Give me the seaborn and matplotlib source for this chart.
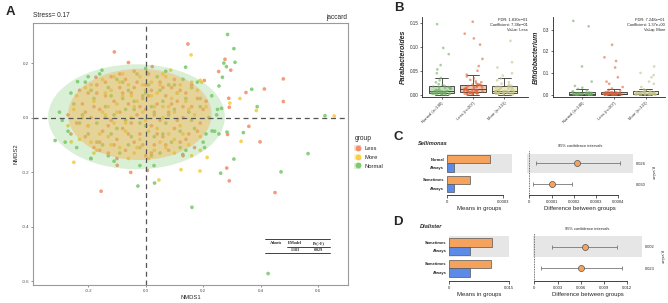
import numpy as np
import pandas as pd
import matplotlib
matplotlib.use("Agg")
import matplotlib.pyplot as plt
import seaborn as sns
from matplotlib.patches import Ellipse, Patch
from matplotlib.lines import Line2D

sns.set_theme(style="white")
plt.rcParams['font.family'] = ['Liberation Sans', 'DejaVu Sans']

# ---------------- data: panel A (NMDS) ----------------
less_pts = [(-0.24,-0.02),(-0.22,0.05),(-0.21,-0.07),(-0.20,0.09),(-0.19,0.00),(-0.18,-0.11),(-0.17,0.12),(-0.16,0.03),
            (-0.15,-0.05),(-0.14,0.08),(-0.13,-0.13),(-0.12,0.15),(-0.12,-0.01),(-0.11,0.06),(-0.10,-0.08),(-0.09,0.11),
            (-0.09,0.02),(-0.08,-0.04),(-0.07,0.14),(-0.07,-0.12),(-0.06,0.05),(-0.05,-0.02),(-0.05,0.09),(-0.04,-0.09),
            (-0.03,0.13),(-0.03,0.01),(-0.02,-0.06),(-0.01,0.07),(0.00,-0.14),(0.00,0.03),(0.01,0.16),(0.02,-0.03),
            (0.02,0.10),(0.03,-0.10),(0.04,0.05),(0.05,-0.01),(0.05,0.13),(0.06,-0.07),(0.07,0.08),(0.08,-0.12),
            (0.08,0.02),(0.09,0.11),(0.10,-0.04),(0.11,0.06),(0.12,-0.09),(0.13,0.00),(0.14,0.09),(0.15,-0.06),
            (0.16,0.04),(0.17,-0.11),(0.18,0.07),(0.19,-0.02),(0.20,0.03),(-0.23,0.10),(-0.26,-0.06),(-0.16,-0.09),
            (0.10,0.14),(-0.04,0.17),(0.13,-0.14),(-0.10,-0.15),
            (-0.20,-0.03),(-0.18,0.04),(-0.14,0.13),(-0.13,-0.03),(-0.11,-0.10),(-0.08,0.09),(-0.06,-0.06),(-0.04,0.11),
            (-0.02,0.04),(-0.01,-0.10),(0.01,0.08),(0.03,0.01),(0.04,-0.06),(0.06,0.11),(0.07,-0.10),(0.09,0.05),
            (0.11,-0.01),(0.12,0.10),(0.14,-0.08),(0.16,0.12),(-0.21,0.02),(-0.16,-0.12),(-0.09,0.16),(0.00,0.12),
            (0.02,-0.13),(0.13,0.04),(-0.27,0.01),(-0.17,0.09),(0.18,-0.05),(0.21,0.06),
            (0.147,0.270),(-0.109,0.241),(-0.060,0.202),(0.023,0.187),(0.276,0.214),(0.296,0.174),(0.254,0.169),
            (0.204,0.136),(0.479,0.142),(0.413,0.105),(0.349,0.092),(0.289,0.071),(0.479,0.059),(0.291,0.038),
            (0.359,-0.032),(0.285,-0.062),(0.398,-0.089),(0.282,-0.185),(0.291,-0.232),(0.450,-0.275),(-0.155,-0.270),
            (-0.052,-0.201),(0.006,-0.194),(-0.099,-0.175),(-0.173,0.148)]
more_pts = [(-0.25,0.03),(-0.23,-0.08),(-0.21,0.11),(-0.20,-0.03),(-0.18,0.06),(-0.17,-0.12),(-0.15,0.14),(-0.14,0.01),
            (-0.13,-0.07),(-0.12,0.10),(-0.11,-0.02),(-0.10,0.05),(-0.09,-0.11),(-0.08,0.16),(-0.08,0.08),(-0.07,-0.05),
            (-0.06,0.12),(-0.05,0.00),(-0.04,-0.13),(-0.03,0.06),(-0.02,0.15),(-0.02,-0.08),(-0.01,0.02),(0.00,0.10),
            (0.01,-0.05),(0.02,0.13),(0.03,-0.12),(0.03,0.04),(0.04,0.09),(0.05,-0.09),(0.06,0.00),(0.07,0.15),
            (0.08,-0.06),(0.09,0.07),(0.10,-0.13),(0.10,0.02),(0.12,0.12),(0.12,-0.03),(0.14,0.06),(0.15,-0.10),
            (0.17,0.01),(0.18,0.10),(0.19,-0.07),(0.21,0.04),(-0.19,-0.09),(-0.24,0.08),(-0.06,-0.15),(0.06,0.16),
            (0.16,-0.14),(-0.13,0.04),
            (-0.22,0.00),(-0.19,0.12),(-0.16,-0.06),(-0.14,0.09),(-0.12,-0.10),(-0.10,0.02),(-0.09,0.13),(-0.07,-0.02),
            (-0.05,0.08),(-0.03,-0.11),(-0.01,0.12),(0.00,-0.01),(0.02,0.08),(0.04,-0.04),(0.05,0.12),(0.07,-0.11),
            (0.08,0.04),(0.11,0.09),(0.13,-0.06),(0.15,0.03),(-0.27,-0.03),(-0.18,-0.13),(-0.11,0.15),(0.01,-0.15),
            (0.16,0.13),(0.19,-0.12),(-0.04,0.04),(0.10,-0.08),(-0.15,0.02),(0.06,0.04),
            (0.158,0.230),(0.087,0.174),(0.190,0.137),(0.293,0.053),(0.328,0.070),(0.385,0.026),(0.656,0.006),
            (0.332,-0.087),(0.214,-0.146),(0.189,-0.196),(0.123,-0.191),(0.046,-0.229),(-0.250,-0.164),(-0.259,-0.089),
            (0.195,0.130)]
normal_pts = [(-0.30,0.02),(-0.27,-0.05),(-0.26,0.09),(-0.24,-0.11),(-0.22,0.01),(-0.21,0.13),(-0.20,-0.06),(-0.18,0.07),
              (-0.17,-0.02),(-0.16,0.16),(-0.15,-0.10),(-0.14,0.04),(-0.13,0.11),(-0.12,-0.06),(-0.11,0.01),(-0.10,0.14),
              (-0.09,-0.13),(-0.08,0.07),(-0.07,-0.01),(-0.06,0.10),(-0.05,-0.07),(-0.04,0.03),(-0.03,0.16),(-0.02,-0.11),
              (-0.01,0.08),(0.00,-0.03),(0.01,0.12),(0.02,0.04),(0.03,-0.07),(0.04,0.15),(0.05,-0.13),(0.06,0.06),
              (0.07,-0.02),(0.08,0.12),(0.09,-0.09),(0.10,0.03),(0.11,0.09),(0.12,-0.05),(0.13,0.14),(0.14,-0.12),
              (0.15,0.02),(0.16,0.11),(0.17,-0.04),(0.19,0.07),(0.20,-0.09),(0.22,0.00),(0.23,0.08),(0.24,-0.05),
              (-0.28,-0.09),(-0.19,-0.15),(0.00,0.18),(-0.11,-0.16),
              (-0.25,0.05),(-0.23,-0.02),(-0.19,0.10),(-0.17,-0.09),(-0.14,0.00),(-0.12,0.08),(-0.10,-0.04),(-0.08,0.13),
              (-0.06,-0.10),(-0.04,0.06),(-0.02,-0.02),(0.00,0.09),(0.02,-0.14),(0.03,0.02),(0.05,0.10),(0.06,-0.06),
              (0.08,0.01),(0.10,0.12),(0.12,-0.11),(0.14,0.07),(0.16,-0.01),(0.18,0.13),(0.21,-0.06),(0.25,0.03),
              (-0.29,-0.01),(-0.20,0.15),(-0.13,-0.14),(0.07,0.17),(0.19,0.04),(-0.07,0.03),
              (0.285,0.305),(0.307,0.253),(0.311,0.203),(0.272,0.200),(0.281,0.187),(0.139,0.185),(0.267,0.148),
              (0.255,0.116),(0.369,0.104),(0.388,0.040),(0.264,0.034),(0.624,0.007),(0.247,0.010),(0.283,-0.053),
              (0.340,-0.055),(0.231,-0.049),(0.255,-0.060),(0.205,-0.110),(0.129,-0.135),(0.307,-0.152),(0.565,-0.132),
              (0.471,-0.199),(0.261,-0.204),(0.161,-0.329),(0.031,-0.240),(-0.027,-0.251),(0.029,-0.176),(-0.020,-0.176),
              (-0.191,-0.150),(-0.315,-0.084),(-0.237,0.132),(-0.152,0.174),(0.426,-0.572),(0.005,0.165)]
groups = ["Less", "More", "Normal"]
# 95% ellipse centre / full width / full height per group
ellipse_center = {"Normal": (-0.032, 0.003), "Less": (-0.020, 0.012), "More": (-0.022, 0.010)}
ellipse_size = {"Normal": (0.615, 0.385), "Less": (0.500, 0.335), "More": (0.495, 0.330)}
stress = 0.17
adonis_F = "1.183"
adonis_p = "0.029"

# ---------------- data: panel B ----------------
b_cats = ["Normal (n=140)", "Less (n=207)", "More (n=131)"]
para_normal = [0.000,0.000,0.001,0.001,0.001,0.002,0.002,0.002,0.002,0.003,0.003,0.003,
               0.003,0.004,0.004,0.004,0.005,0.005,0.005,0.006,0.006,0.006,0.007,0.007,
               0.007,0.008,0.009,0.010,0.011,0.012,0.013,0.014,0.015,0.016,0.016,0.017,
               0.018,0.020,0.022,0.026,0.030,0.035,0.045,0.053,0.062,0.085,0.098,0.148]
para_less = [0.000,0.001,0.001,0.001,0.002,0.002,0.002,0.003,0.003,0.003,0.003,0.004,0.004,0.004,0.004,
             0.005,0.005,0.006,0.006,0.007,0.007,0.008,0.008,0.009,0.009,0.010,0.010,0.010,0.011,0.011,
             0.011,0.012,0.013,0.014,0.015,0.015,0.016,0.017,0.018,0.018,0.019,0.020,0.020,0.021,0.021,
             0.022,0.024,0.026,0.028,0.031,0.034,0.038,0.042,0.050,0.060,0.075,0.105,0.118,0.128,0.153]
para_more = [0.000,0.001,0.001,0.001,0.002,0.002,0.002,0.003,0.003,0.003,0.004,0.004,
             0.004,0.005,0.005,0.005,0.006,0.006,0.006,0.007,0.007,0.007,0.008,0.008,
             0.008,0.009,0.010,0.011,0.012,0.013,0.014,0.015,0.015,0.016,0.016,0.017,
             0.018,0.019,0.021,0.023,0.026,0.030,0.034,0.040,0.045,0.057,0.068,0.113]
bifi_normal = [0.000,0.000,0.000,0.000,0.000,0.000,0.000,0.000,0.000,0.000,
               0.000,0.001,0.001,0.001,0.002,0.002,0.002,0.003,0.003,0.003,
               0.003,0.004,0.004,0.005,0.005,0.006,0.007,0.008,0.009,0.010,
               0.012,0.015,0.020,0.026,0.032,0.040,0.060,0.130,0.315,0.340]
bifi_less = [0.000,0.000,0.000,0.000,0.000,0.000,0.000,0.000,0.001,0.001,0.001,0.001,
             0.001,0.002,0.002,0.002,0.003,0.003,0.003,0.003,0.004,0.004,0.004,0.004,
             0.005,0.005,0.006,0.006,0.007,0.008,0.008,0.009,0.010,0.011,0.011,0.012,
             0.014,0.018,0.022,0.028,0.035,0.050,0.060,0.080,0.125,0.155,0.172,0.230]
bifi_more = [0.000,0.000,0.000,0.000,0.000,0.000,0.000,0.000,0.001,0.001,0.001,
             0.001,0.002,0.002,0.003,0.003,0.003,0.004,0.004,0.004,0.004,0.005,
             0.005,0.006,0.007,0.008,0.009,0.010,0.011,0.012,0.013,0.013,0.014,
             0.016,0.020,0.025,0.035,0.050,0.060,0.080,0.090,0.100,0.130,0.295]
para_note = ["FDR: 1.830e\u221201", "Coefficient: 7.38e\u221201", "Value: Less"]
bifi_note = ["FDR: 7.248e\u221201", "Coefficient: 1.37e+00", "Value: More"]

# ---------------- data: panels C / D ----------------
c_rows = [["Normal", "Always"], ["Sometimes", "Always"]]
c_mean_orange = [0.000229, 0.000125]
c_mean_blue = [0.0000375, 0.0000375]
c_diff = [0.000216, 0.000101]
c_lo = [0.000030, 0.000015]
c_hi = [0.000406, 0.000193]
c_p = ["0.026", "0.030"]
d_rows = [["Sometimes", "Always"], ["Sometimes", "Always"]]
d_mean_orange = [0.01075, 0.0105]
d_mean_blue = [0.00533, 0.00533]
d_diff = [0.00654, 0.00602]
d_lo = [0.00232, 0.00086]
d_hi = [0.01062, 0.01127]
d_p = ["0.002", "0.023"]

# ---------------- styling ----------------
W, H = 668, 303
pal = {"Less": "#F4906C", "More": "#F5CF45", "Normal": "#7DCB6E"}
key_bg = {"Less": "#FBE3D8", "More": "#FBF2CF", "Normal": "#DDF1DA"}
box_fill = ["#C4E3BC", "#F8C0A8", "#F6F2C0"]
pt_col = ["#6FAE62", "#D9643A", "#C2C285"]
ORANGE, BLUE = "#F5A25D", "#5B8BE6"


def box(l, t, r, b):
    return [l / W, 1 - b / H, (r - l) / W, (b - t) / H]


def fxy(x, y):
    return x / W, 1 - y / H


fig = plt.figure(figsize=(W / 100, H / 100), dpi=100)
fig.patch.set_facecolor("white")

# ================= Panel A =================
axA = fig.add_axes(box(33, 23, 348, 285))
rows = []
for g, pts in zip(["Normal", "Less", "More"], [normal_pts, less_pts, more_pts]):
    for x, y in pts:
        rows.append((x, y, g))
dfA = pd.DataFrame(rows, columns=["NMDS1", "NMDS2", "group"])
sns.scatterplot(data=dfA, x="NMDS1", y="NMDS2", hue="group", palette=pal, s=7,
                linewidth=0, alpha=0.9, ax=axA, legend=False, zorder=2)
for g in ["Normal", "Less", "More"]:
    e = Ellipse(ellipse_center[g], ellipse_size[g][0], ellipse_size[g][1],
                facecolor=pal[g], edgecolor="none", alpha=0.28, zorder=3)
    axA.add_patch(e)
axA.axhline(0, color="#555555", lw=0.9, dashes=(4, 3), zorder=4)
axA.axvline(0, color="#555555", lw=0.9, dashes=(4, 3), zorder=4)
axA.set_xlim(-0.392, 0.704)
axA.set_ylim(-0.614, 0.347)
axA.set_xticks([-0.2, 0.0, 0.2, 0.4, 0.6])
axA.set_yticks([-0.6, -0.4, -0.2, 0.0, 0.2])
axA.set_xticklabels(["-0.2", "0.0", "0.2", "0.4", "0.6"])
axA.set_yticklabels(["-0.6", "-0.4", "-0.2", "0.0", "0.2"])
axA.tick_params(labelsize=3.2, colors="#666666", labelcolor="#4d4d4d", length=1.5, width=0.5, pad=1.2,
                bottom=True, left=True)
for s in axA.spines.values():
    s.set_color("#9a9a9a")
    s.set_linewidth(0.8)
axA.set_xlabel("NMDS1", fontsize=4.2, labelpad=1.5)
axA.set_ylabel("NMDS2", fontsize=4.2, labelpad=2)
fig.text(*fxy(33, 15.5), f"Stress= {stress}", fontsize=4.7, va="center", ha="left")
fig.text(*fxy(347, 17.5), "jaccard", fontsize=4.7, va="center", ha="right")
fig.text(*fxy(6, 12), "A", fontsize=9.5, fontweight="bold", va="center", ha="left")

# adonis table
tf = dict(fontsize=3.0, fontweight="bold", family=["Liberation Serif", "DejaVu Serif"], va="center", ha="center")
fig.text(*fxy(276, 243), "Adonis", **tf)
fig.text(*fxy(295.5, 243), "F.Model", **tf)
fig.text(*fxy(318.5, 243), "Pr(>F)", **tf)
fig.text(*fxy(295.5, 250), adonis_F, **tf)
fig.text(*fxy(318.5, 250), adonis_p, **tf)
for (x0, x1, y) in [(265, 330, 239.2), (287, 330, 246.6), (265, 330, 253.2)]:
    fig.add_artist(Line2D([x0 / W, x1 / W], [1 - y / H, 1 - y / H], color="#222222", lw=0.6,
                          transform=fig.transFigure))

# legend
handles = [(Patch(facecolor=key_bg[g], edgecolor="none"),
            Line2D([0], [0], marker="o", ls="", color=pal[g], markersize=3.2)) for g in groups]
leg = fig.legend(handles, groups, title="group", loc="upper left", bbox_to_anchor=fxy(352, 133),
                 frameon=False, fontsize=4.2, title_fontsize=4.8, handlelength=1.1, handleheight=1.3,
                 labelspacing=0.45, handletextpad=0.6, borderaxespad=0, alignment="left")

# ================= Panel B =================
def boxstrip(ax, vals, note, ylabel, yticks, yticklabels, ylim, xlim):
    df = pd.DataFrame({"group": np.repeat(b_cats, [len(v) for v in vals]),
                       "value": np.concatenate(vals)})
    sns.boxplot(data=df, x="group", y="value", hue="group", order=b_cats, hue_order=b_cats,
                palette=box_fill, width=0.8, linewidth=0.6, linecolor="#333333",
                showfliers=False, ax=ax, legend=False, zorder=1)
    sns.stripplot(data=df, x="group", y="value", hue="group", order=b_cats, hue_order=b_cats,
                  palette=pt_col, jitter=0.32, size=1.9, alpha=0.6, linewidth=0,
                  ax=ax, legend=False, zorder=3)
    ax.set_ylim(*ylim)
    ax.set_xlim(*xlim)
    ax.set_yticks(yticks)
    ax.set_yticklabels(yticklabels)
    ax.set_xticks(range(3))
    ax.set_xticklabels(b_cats, rotation=45, ha="right", rotation_mode="anchor")
    ax.tick_params(axis="both", labelsize=3.3, length=1.5, width=0.5, pad=1.2, colors="#333333",
                   bottom=True, left=True)
    ax.tick_params(axis="x", labelsize=3.0)
    for k in ["top", "right"]:
        ax.spines[k].set_visible(False)
    for k in ["left", "bottom"]:
        ax.spines[k].set_color("#222222")
        ax.spines[k].set_linewidth(0.6)
    ax.set_xlabel("")
    ax.set_ylabel(ylabel, fontsize=5, fontstyle="italic", fontweight="bold", labelpad=2)
    ax.text(1.0, 0.99, "\n".join(note), transform=ax.transAxes, ha="right", va="top",
            fontsize=2.9, linespacing=1.35)


np.random.seed(3)
axB1 = fig.add_axes(box(422, 17, 528, 97))
boxstrip(axB1, [para_normal, para_less, para_more], para_note, "Parabacteroides",
         [0, 0.05, 0.10, 0.15], ["0.00", "0.05", "0.10", "0.15"], (-0.005, 0.163), (-0.62, 2.75))
axB2 = fig.add_axes(box(553, 17, 665, 97))
boxstrip(axB2, [bifi_normal, bifi_less, bifi_more], bifi_note, "Bifidobacterium",
         [0, 0.1, 0.2, 0.3], ["0.0", "0.1", "0.2", "0.3"], (-0.011, 0.358), (-0.91, 2.61))
fig.text(*fxy(394, 8), "B", fontsize=9.5, fontweight="bold", va="center", ha="left")


# ================= Panels C / D =================
def stamp(axb, axd, rowlabels, mo, mb, diff, lo, hi, pv, title, bar_ticks, bar_lbls, bar_xlim,
          d_ticks, d_lbls, d_xlim, ylim, band, lblsize):
    ypos = np.arange(len(mo))
    for ax in (axb, axd):
        ax.set_facecolor("white")
        ax.axhspan(-band, band, color="#E6E6E6", zorder=0, lw=0)
        ax.set_ylim(*ylim)
        for k in ["top", "right", "left"]:
            ax.spines[k].set_visible(False)
        ax.spines["bottom"].set_color("#222222")
        ax.spines["bottom"].set_linewidth(0.6)
        ax.tick_params(axis="x", labelsize=3.0, length=2, width=0.5, pad=1.5, bottom=True, colors="#222222")
    axb.barh(ypos - 0.2, mo, height=0.4, color=ORANGE, edgecolor="#555555", lw=0.5, zorder=2)
    axb.barh(ypos + 0.2, mb, height=0.4, color=BLUE, edgecolor="#555555", lw=0.5, zorder=2)
    axb.set_yticks(np.concatenate([ypos - 0.2, ypos + 0.2]))
    axb.set_yticklabels([r[0] for r in rowlabels] + [r[1] for r in rowlabels])
    axb.tick_params(axis="y", labelsize=2.9, length=0, pad=2)
    for t in axb.get_yticklabels():
        t.set_fontweight("bold")
    axb.set_xlim(*bar_xlim)
    axb.set_xticks(bar_ticks)
    axb.set_xticklabels(bar_lbls)
    axb.spines["bottom"].set_bounds(bar_ticks[0], bar_ticks[-1])
    axb.set_xlabel("Means in groups", fontsize=lblsize, labelpad=1.5)

    axd.axvline(0, color="#444444", lw=0.6, ls=(0, (1, 1)), zorder=1)
    axd.errorbar(diff, ypos, xerr=[np.subtract(diff, lo), np.subtract(hi, diff)], fmt="none",
                 ecolor="#777777", elinewidth=0.6, capsize=1.6, capthick=0.6, zorder=2)
    axd.scatter(diff, ypos, s=19, color=ORANGE, edgecolor="#555555", linewidth=0.5, zorder=3)
    axd.set_xlim(*d_xlim)
    axd.set_xticks(d_ticks)
    axd.set_xticklabels(d_lbls)
    axd.spines["bottom"].set_bounds(d_ticks[0], d_ticks[-1])
    axd.set_yticks(ypos)
    axd.set_yticklabels(pv)
    axd.yaxis.tick_right()
    axd.tick_params(axis="y", labelsize=2.9, length=0, pad=2.5, right=False)
    axd.yaxis.set_label_position("right")
    axd.set_ylabel("p_value", fontsize=2.9, rotation=270, labelpad=6)
    axd.set_xlabel("Difference between groups", fontsize=lblsize, labelpad=1.5)
    axd.set_title("95% confidence intervals", fontsize=2.9, pad=2.5)


axCb = fig.add_axes(box(447, 150, 511.7, 195))
axCd = fig.add_axes(box(527, 150, 632.7, 195))
stamp(axCb, axCd, c_rows, c_mean_orange, c_mean_blue, c_diff, c_lo, c_hi, c_p, "Sellimonas",
      [0, 0.0003], ["0", "0.0003"], (0, 0.000345),
      [0, 0.0001, 0.0002, 0.0003, 0.0004], ["0", "0.0001", "0.0002", "0.0003", "0.0004"],
      (-0.0000103, 0.000464), (1.53, -0.64), 0.47, 4.3)
fig.text(*fxy(418, 143), "Sellimonas", fontsize=4.1, fontstyle="italic", fontweight="bold", va="center")
fig.text(*fxy(394, 137), "C", fontsize=9.5, fontweight="bold", va="center", ha="left")

axDb = fig.add_axes(box(449.3, 233, 509.3, 281))
axDd = fig.add_axes(box(533.3, 233, 641.7, 281))
stamp(axDb, axDd, d_rows, d_mean_orange, d_mean_blue, d_diff, d_lo, d_hi, d_p, "Dialister",
      [0, 0.015], ["0", "0.015"], (0, 0.0151),
      [0, 0.003, 0.006, 0.009, 0.012], ["0", "0.003", "0.006", "0.009", "0.012"],
      (-0.00013, 0.01386), (1.59, -0.63), 0.49, 4.3)
fig.text(*fxy(420, 227), "Dialister", fontsize=4.1, fontstyle="italic", fontweight="bold", va="center")
fig.text(*fxy(393, 222), "D", fontsize=9.5, fontweight="bold", va="center", ha="left")

fig.savefig("out.png", dpi=100, facecolor="white")
